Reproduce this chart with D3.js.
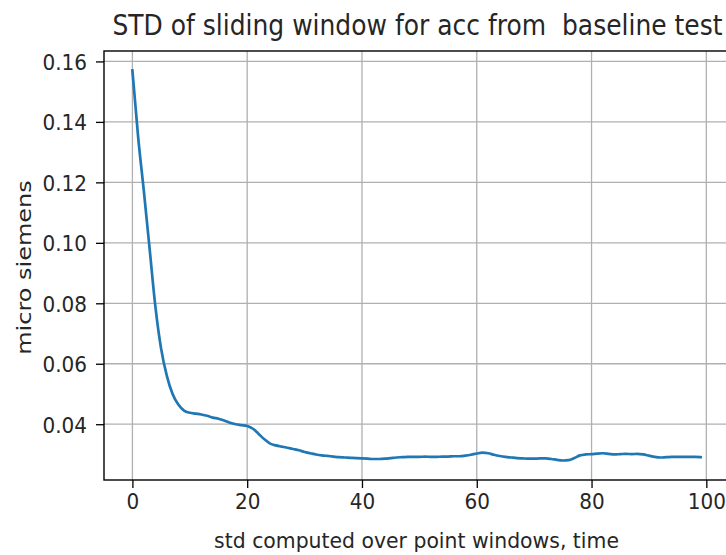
<!DOCTYPE html>
<html><head><meta charset="utf-8">
<script src="https://cdn.jsdelivr.net/npm/d3@7/dist/d3.min.js"></script>
<style>body{margin:0;background:#fff;} svg{display:block;}</style>
</head><body>
<svg id="c" width="726" height="555"></svg>
<script>
const title = "STD of sliding window for acc from  baseline test";
const xLabel = "std computed over point windows, time";
const yLabel = "micro siemens";
const xTicks = [0, 20, 40, 60, 80, 100];
const yTicks = [0.04, 0.06, 0.08, 0.10, 0.12, 0.14, 0.16];
const stdValues = [
 0.1570, 0.1350, 0.1170, 0.0980, 0.0790, 0.0650, 0.0560, 0.0500, 0.0465, 0.0445,
 0.0438, 0.0435, 0.0432, 0.0428, 0.0422, 0.0418, 0.0412, 0.0405, 0.0400, 0.0397,
 0.0394, 0.0385, 0.0368, 0.0350, 0.0336, 0.0330, 0.0326, 0.0322, 0.0318, 0.0314,
 0.0308, 0.0304, 0.0300, 0.0297, 0.0295, 0.0293, 0.0291, 0.0290, 0.0289, 0.0288,
 0.0287, 0.0286, 0.0285, 0.0285, 0.0286, 0.0288, 0.0290, 0.0291, 0.0292, 0.0292,
 0.0292, 0.0293, 0.0292, 0.0292, 0.0293, 0.0293, 0.0294, 0.0294, 0.0296, 0.0299,
 0.0303, 0.0306, 0.0304, 0.0299, 0.0295, 0.0292, 0.0290, 0.0288, 0.0287, 0.0286,
 0.0286, 0.0287, 0.0287, 0.0285, 0.0282, 0.0280, 0.0281, 0.0288, 0.0297, 0.0300,
 0.0301, 0.0303, 0.0304, 0.0302, 0.0300, 0.0301, 0.0302, 0.0301, 0.0302, 0.0300,
 0.0296, 0.0292, 0.0290, 0.0291, 0.0292, 0.0292, 0.0292, 0.0292, 0.0292, 0.0291
];

const svg = d3.select("#c");
const L = 104, R = 729, T = 51, B = 480;
const n = stdValues.length;
const xPad = (n - 1) * 0.05;
const x = d3.scaleLinear().domain([-xPad, n - 1 + xPad]).range([L, R]);
const yMin = d3.min(stdValues), yMax = d3.max(stdValues), yPad = (yMax - yMin) * 0.05;
const y = d3.scaleLinear().domain([yMin - yPad, yMax + yPad]).range([B, T]);

const font = "DejaVu Sans, sans-serif";
const sy = 1.1;

// grid
const g = svg.append("g");
g.selectAll(".gx").data(xTicks.filter(t => x(t) <= R)).enter().append("line")
  .attr("x1", d => x(d)).attr("x2", d => x(d)).attr("y1", T).attr("y2", B)
  .attr("stroke", "#b0b0b0").attr("stroke-width", 1.3);
g.selectAll(".gy").data(yTicks).enter().append("line")
  .attr("x1", L).attr("x2", R).attr("y1", d => y(d)).attr("y2", d => y(d))
  .attr("stroke", "#b0b0b0").attr("stroke-width", 1.3);

// line
const line = d3.line().x((d, i) => x(i)).y(d => y(d)).curve(d3.curveMonotoneX);
svg.append("path").datum(stdValues).attr("d", line)
  .attr("fill", "none").attr("stroke", "#1f77b4").attr("stroke-width", 2.7)
  .attr("stroke-linejoin", "round").attr("stroke-linecap", "square");

// spines
svg.append("rect").attr("x", L).attr("y", T).attr("width", R - L).attr("height", B - T)
  .attr("fill", "none").attr("stroke", "#000").attr("stroke-width", 1.4);

// axes
const xAxis = svg.append("g").attr("transform", `translate(0,${B})`)
  .call(d3.axisBottom(x).tickValues(xTicks).tickSize(8).tickPadding(0).tickFormat(d3.format("d")));
xAxis.select(".domain").remove();
xAxis.selectAll(".tick line").attr("stroke", "#000").attr("stroke-width", 1.3);
xAxis.selectAll(".tick text").each(function(d){
  d3.select(this).attr("y", 0).attr("dy", null)
    .attr("transform", `translate(0,${29}) scale(1,${sy})`)
    .attr("font-family", font).attr("font-size", 20).attr("fill", "#262626")
    .attr("text-anchor", "middle");
});

const yAxis = svg.append("g").attr("transform", `translate(${L},0)`)
  .call(d3.axisLeft(y).tickValues(yTicks).tickSize(8).tickPadding(0).tickFormat(d3.format(".2f")));
yAxis.select(".domain").remove();
yAxis.selectAll(".tick line").attr("stroke", "#000").attr("stroke-width", 1.3);
yAxis.selectAll(".tick text").each(function(d){
  d3.select(this).attr("x", 0).attr("dy", null)
    .attr("transform", `translate(-17,${8}) scale(1,${sy})`)
    .attr("font-family", font).attr("font-size", 20).attr("fill", "#262626")
    .attr("text-anchor", "end");
});

// title
svg.append("text").attr("transform", `translate(${(L + R) / 2 + 1},35) scale(1,1.12)`)
  .attr("text-anchor", "middle").attr("font-family", font).attr("font-size", 25)
  .attr("xml:space", "preserve").style("white-space", "pre")
  .attr("fill", "#262626").text(title);
// x label
svg.append("text").attr("transform", `translate(${(L + R) / 2},548) scale(1.02,${sy})`)
  .attr("text-anchor", "middle").attr("font-family", font).attr("font-size", 20)
  .attr("fill", "#262626").text(xLabel);
// y label
svg.append("text").attr("transform", `translate(31,${(T + B) / 2 + 2}) rotate(-90) scale(1.2,1)`)
  .attr("text-anchor", "middle").attr("font-family", font).attr("font-size", 20)
  .attr("fill", "#262626").text(yLabel);
</script>
</body></html>
